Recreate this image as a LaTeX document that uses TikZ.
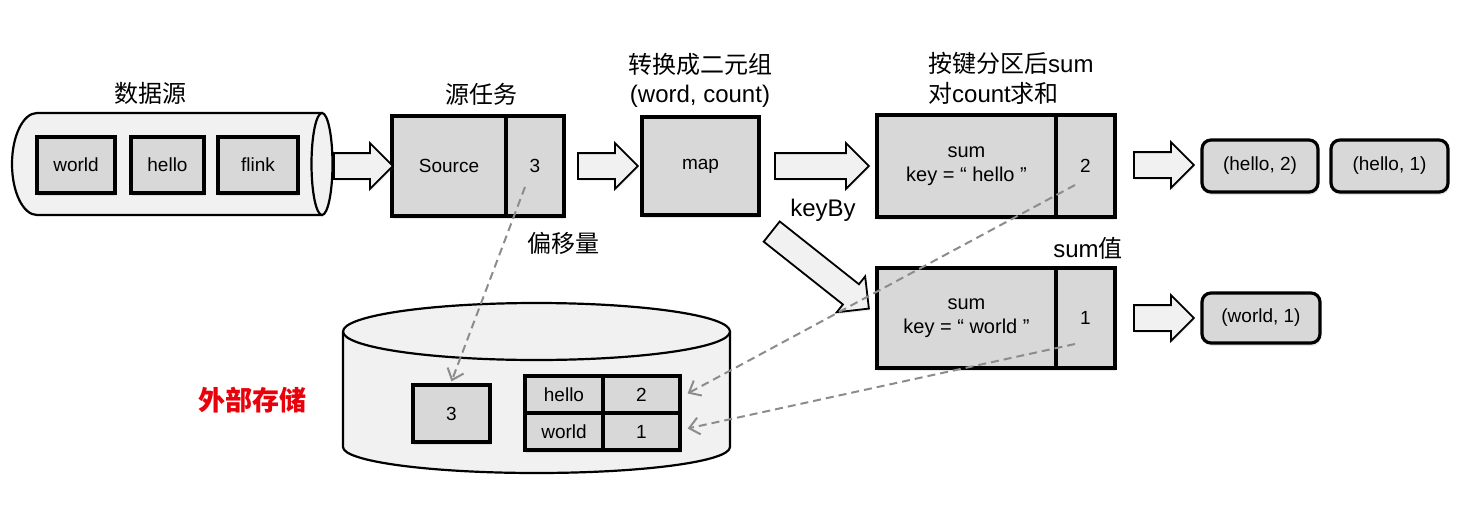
\documentclass[tikz,border=0pt]{standalone}
\usepackage{fontspec}
\setmainfont{Liberation Sans}
\newfontfamily\cjk{Noto Sans CJK SC}
\usetikzlibrary{shapes.arrows,shadows,arrows.meta,calc}
\definecolor{boxgray}{HTML}{D8D8D8}
\definecolor{lightfill}{HTML}{F1F1F1}
\definecolor{dashgray}{HTML}{8C8C8C}
\definecolor{redlabel}{HTML}{E8000B}
\newcommand{\shaftrule}{\rule{0pt}{24pt}}
\begin{document}
\begin{tikzpicture}[x=1pt,y=-1pt,
  shade box/.style={drop shadow={shadow xshift=1pt, shadow yshift=-3pt, opacity=0.2}},
  box/.style={draw, line width=3.2pt, fill=boxgray, inner sep=0pt, align=center,
    font=\fontsize{19}{23}\selectfont, shade box},
  rbox/.style={box, rounded corners=9pt},
  fatarrow/.style={single arrow, draw, line width=1.8pt, fill=lightfill, inner sep=0pt,
    font=\fontsize{1}{1}\selectfont,
    minimum width=44pt, single arrow head extend=10pt, single arrow tip angle=90, anchor=tail,
    drop shadow={shadow xshift=1pt, shadow yshift=-2pt, opacity=0.15}},
  title/.style={font=\fontsize{24}{30}\selectfont, inner sep=0pt, align=left},
  dasharrow/.style={draw=dashgray, line width=2pt, dash pattern=on 8pt off 5pt,
    -{Straight Barb[length=10pt,width=17pt,line width=2pt]}}
]
\useasboundingbox (0,0) rectangle (1478,530);

% ---------- data source pipe ----------
\path[draw, line width=2.2pt, fill=lightfill]
  (322,113) -- (37,113) .. controls (23.2,113) and (12,135.8) .. (12,164)
  .. controls (12,192.2) and (23.2,215) .. (37,215) -- (322,215) -- cycle;
\draw[line width=2.2pt, fill=lightfill] (322,164) ellipse [x radius=10.5, y radius=51];
\node[box, minimum width=78pt, minimum height=56pt] (w)  at (76,165)  {world};
\node[box, minimum width=73pt, minimum height=56pt] (h)  at (167.5,165) {hello};
\node[box, minimum width=80pt, minimum height=56pt] (f)  at (258,165) {flink};
\node[title] (tsrc) at (150,93) {\cjk 数据源};

% ---------- source task ----------
\node[box, minimum width=114pt, minimum height=100pt] (src)  at (449,166) {Source};
\node[box, minimum width=58pt, minimum height=100pt]  (src3) at (535,166) {3};
\node[title] (ttask) at (481,94) {\cjk 源任务};

% ---------- map ----------
\node[box, minimum width=117pt, minimum height=98pt] (map) at (700.5,166) {map};
\node[title] (tmap1) at (700,64) {\cjk 转换成二元组};
\node[title] (tmap2) at (700,96) {(word, count)};

% ---------- keyed sums ----------
\node[box, minimum width=179pt, minimum height=102pt, font=\fontsize{20}{24}\selectfont] (sh)  at (966.5,166) {sum\\key = “ hello ”};
\node[box, minimum width=59pt, minimum height=102pt]  (sh2) at (1085.5,166) {2};
\node[title, anchor=west] (tsum1) at (928,63) {{\cjk 按键分区后}sum};
\node[title, anchor=west] (tsum2) at (928,93) {{\cjk 对}count{\cjk 求和}};

\node[box, minimum width=179pt, minimum height=100pt, font=\fontsize{20}{24}\selectfont] (sw)  at (966.5,318) {sum\\key = “ world ”};
\node[box, minimum width=59pt, minimum height=100pt]  (sw1) at (1085.5,318) {1};
\node[title] (tsumv) at (1088,248) {sum{\cjk 值}};

\node[title] (tkey) at (823,210) {keyBy};

% ---------- outputs ----------
\node[rbox, minimum width=116pt, minimum height=52pt] (o1) at (1260,166) {(hello, 2)};
\node[rbox, minimum width=117pt, minimum height=52pt] (o2) at (1389.5,166) {(hello, 1)};
\node[rbox, minimum width=118pt, minimum height=50pt] (o3) at (1261,318) {(world, 1)};

% ---------- fat arrows ----------
\node[fatarrow, minimum height=59pt] (a1) at (333,166) {\shaftrule};
\node[fatarrow, minimum height=60pt] (a2) at (577,166) {\shaftrule};
\node[fatarrow, minimum height=94pt] (a3) at (774,166) {\shaftrule};
\node[fatarrow, minimum height=60pt] (a4) at (1133,165) {\shaftrule};
\node[fatarrow, minimum height=60pt] (a5) at (1133,318) {\shaftrule};
\node[fatarrow, minimum height=124pt, rotate=-38.4] (a6) at (771,231) {\shaftrule};

% ---------- external storage ----------
\path[fill=lightfill] (343,331.5) -- (343,447) .. controls (343,461.4) and (429.6,473) .. (536.5,473)
  .. controls (643.4,473) and (730,461.4) .. (730,447) -- (730,331.5) -- cycle;
\draw[line width=2.2pt] (343,331.5) -- (343,447) .. controls (343,461.4) and (429.6,473) .. (536.5,473)
  .. controls (643.4,473) and (730,461.4) .. (730,447) -- (730,331.5);
\draw[line width=2.2pt, fill=lightfill] (536.5,331.5) ellipse [x radius=193.5, y radius=28.5];

\node[box, minimum width=77pt, minimum height=57pt] (b3) at (451.5,413.5) {3};
\node[box, minimum width=78pt, minimum height=37pt] (th) at (564,394.5) {hello};
\node[box, minimum width=77pt, minimum height=37pt] (t2) at (641.5,394.5) {2};
\node[box, minimum width=78pt, minimum height=37pt] (tw) at (564,431.5) {world};
\node[box, minimum width=77pt, minimum height=37pt] (t1) at (641.5,431.5) {1};

\node[font=\fontsize{27}{32}\selectfont\cjk\bfseries, text=redlabel, inner sep=0pt] (tstore) at (252,400) {外部存储};
\node[title] (toff) at (563,243) {\cjk 偏移量};

% ---------- dashed offset / state arrows ----------
\coordinate (d1) at (525,187);
\coordinate (d2) at (1075,185);
\coordinate (d3) at (1075,344);
\draw[dasharrow] (d1) -- ($(b3.north)+(0,-2)$);
\draw[dasharrow] (d2) -- ($(t2.east)+(6,-1)$);
\draw[dasharrow] (d3) -- ($(t1.east)+(6,-3)$);
\end{tikzpicture}
\end{document}
